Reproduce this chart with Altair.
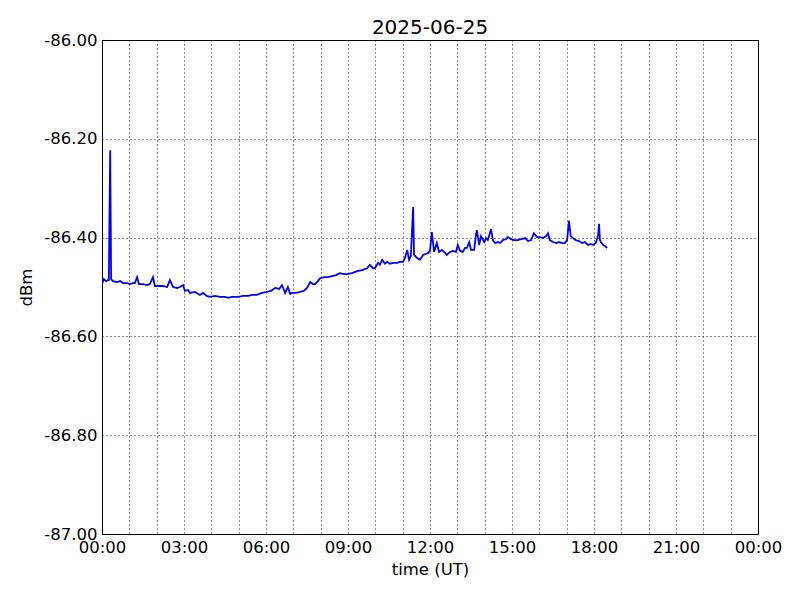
import altair as alt
import pandas as pd

# minutes after 00:00 UT on 2025-06-25
minutes = [
    0, 4, 9, 13, 15, 18, 20, 24, 33, 40, 46, 55, 61, 68, 72, 77, 81, 90, 99, 105,
    112, 116, 125, 134, 143, 149, 156, 165, 171, 178, 182, 189, 193, 204, 215, 222, 230, 237, 248, 259,
    270, 277, 285, 299, 310, 321, 329, 340, 351, 362, 371, 380, 389, 395, 402, 408, 413, 417, 426, 435,
    443, 450, 457, 463, 468, 474, 479, 490, 496, 505, 514, 522, 531, 538, 549, 560, 571, 582, 588, 595,
    599, 606, 610, 615, 621, 626, 632, 639, 648, 654, 661, 665, 670, 674, 678, 683, 685, 691, 698, 705,
    711, 716, 720, 724, 729, 735, 740, 746, 753, 757, 764, 770, 777, 781, 786, 792, 797, 801, 806, 810,
    817, 821, 823, 828, 832, 839, 843, 847, 854, 858, 863, 869, 874, 880, 887, 891, 898, 904, 913, 920,
    929, 935, 942, 948, 955, 961, 968, 975, 979, 983, 990, 997, 1003, 1010, 1016, 1021, 1025, 1029, 1034, 1040,
    1047, 1054, 1060, 1067, 1073, 1078, 1084, 1089, 1091, 1093, 1095, 1100, 1104, 1109,
]

dbm = [
    -86.494, -86.484, -86.488, -86.486, -86.486, -86.223, -86.484, -86.488, -86.490, -86.488,
    -86.492, -86.492, -86.494, -86.492, -86.492, -86.480, -86.494, -86.494, -86.496, -86.494,
    -86.480, -86.498, -86.498, -86.498, -86.500, -86.486, -86.500, -86.502, -86.500, -86.496,
    -86.508, -86.506, -86.512, -86.510, -86.516, -86.512, -86.518, -86.520, -86.518, -86.520,
    -86.520, -86.522, -86.520, -86.520, -86.518, -86.518, -86.516, -86.516, -86.512, -86.510,
    -86.508, -86.502, -86.504, -86.496, -86.512, -86.500, -86.514, -86.512, -86.512, -86.510,
    -86.508, -86.502, -86.490, -86.494, -86.494, -86.488, -86.482, -86.480, -86.480, -86.478,
    -86.476, -86.472, -86.474, -86.474, -86.472, -86.468, -86.466, -86.462, -86.455, -86.462,
    -86.462, -86.451, -86.455, -86.445, -86.453, -86.449, -86.453, -86.451, -86.451, -86.449,
    -86.449, -86.441, -86.425, -86.445, -86.437, -86.338, -86.435, -86.441, -86.445, -86.435,
    -86.433, -86.431, -86.427, -86.389, -86.429, -86.411, -86.429, -86.425, -86.431, -86.435,
    -86.429, -86.427, -86.429, -86.415, -86.427, -86.429, -86.421, -86.421, -86.409, -86.425,
    -86.425, -86.393, -86.385, -86.415, -86.397, -86.409, -86.401, -86.405, -86.383, -86.405,
    -86.411, -86.409, -86.411, -86.405, -86.403, -86.399, -86.403, -86.405, -86.405, -86.403,
    -86.401, -86.407, -86.405, -86.391, -86.399, -86.399, -86.401, -86.397, -86.391, -86.405,
    -86.409, -86.411, -86.409, -86.411, -86.411, -86.405, -86.366, -86.397, -86.401, -86.405,
    -86.407, -86.411, -86.409, -86.415, -86.413, -86.415, -86.411, -86.395, -86.372, -86.405,
    -86.409, -86.415, -86.417, -86.421,
]

x_ticks = list(range(0, 25))
y_ticks = [-87.0, -86.8, -86.6, -86.4, -86.2, -86.0]

df = pd.DataFrame({"hour": [m / 60 for m in minutes], "dbm": dbm})

FONT = "DejaVu Sans"

x_label = ("datum.value % 3 == 0 ? (datum.value == 24 ? '00:00' : "
           "(datum.value < 10 ? '0' : '') + datum.value + ':00') : ''")

chart = alt.Chart(df).mark_line(color="#0000ff", strokeWidth=1.8, clip=True).encode(
    x=alt.X("hour:Q",
            scale=alt.Scale(domain=[0, 24], nice=False, zero=False),
            axis=alt.Axis(values=x_ticks, labelExpr=x_label, title="time (UT)",
                          grid=True, ticks=False, labelPadding=5, titlePadding=6,
                          labelFlush=False, labelOverlap=False)),
    y=alt.Y("dbm:Q",
            scale=alt.Scale(domain=[-87.0, -86.0], nice=False, zero=False),
            axis=alt.Axis(values=y_ticks, labelExpr="'-' + format(abs(datum.value), '.2f')",
                          title="dBm", grid=True, ticks=False, labelPadding=5,
                          titlePadding=9, labelFlush=False, labelOverlap=False)),
).properties(
    width=656,
    height=494,
    title=alt.TitleParams("2025-06-25", font=FONT, fontSize=20, fontWeight="normal",
                          color="black", offset=6, dy=12),
    autosize=alt.AutoSizeParams(type="none"),
    padding={"left": 94, "top": 32, "right": 34, "bottom": 58},
    background="white",
).configure_view(
    stroke="black", strokeWidth=1
).configure_axis(
    labelFont=FONT, labelFontSize=16.5, labelColor="black",
    titleFont=FONT, titleFontSize=16.5, titleFontWeight="normal", titleColor="black",
    domainColor="black", domainWidth=1,
    gridColor="black", gridDash=[1, 3], gridWidth=1, gridOpacity=0.9,
)

chart.save("out.html", embed_options={"renderer": "svg", "actions": False})
